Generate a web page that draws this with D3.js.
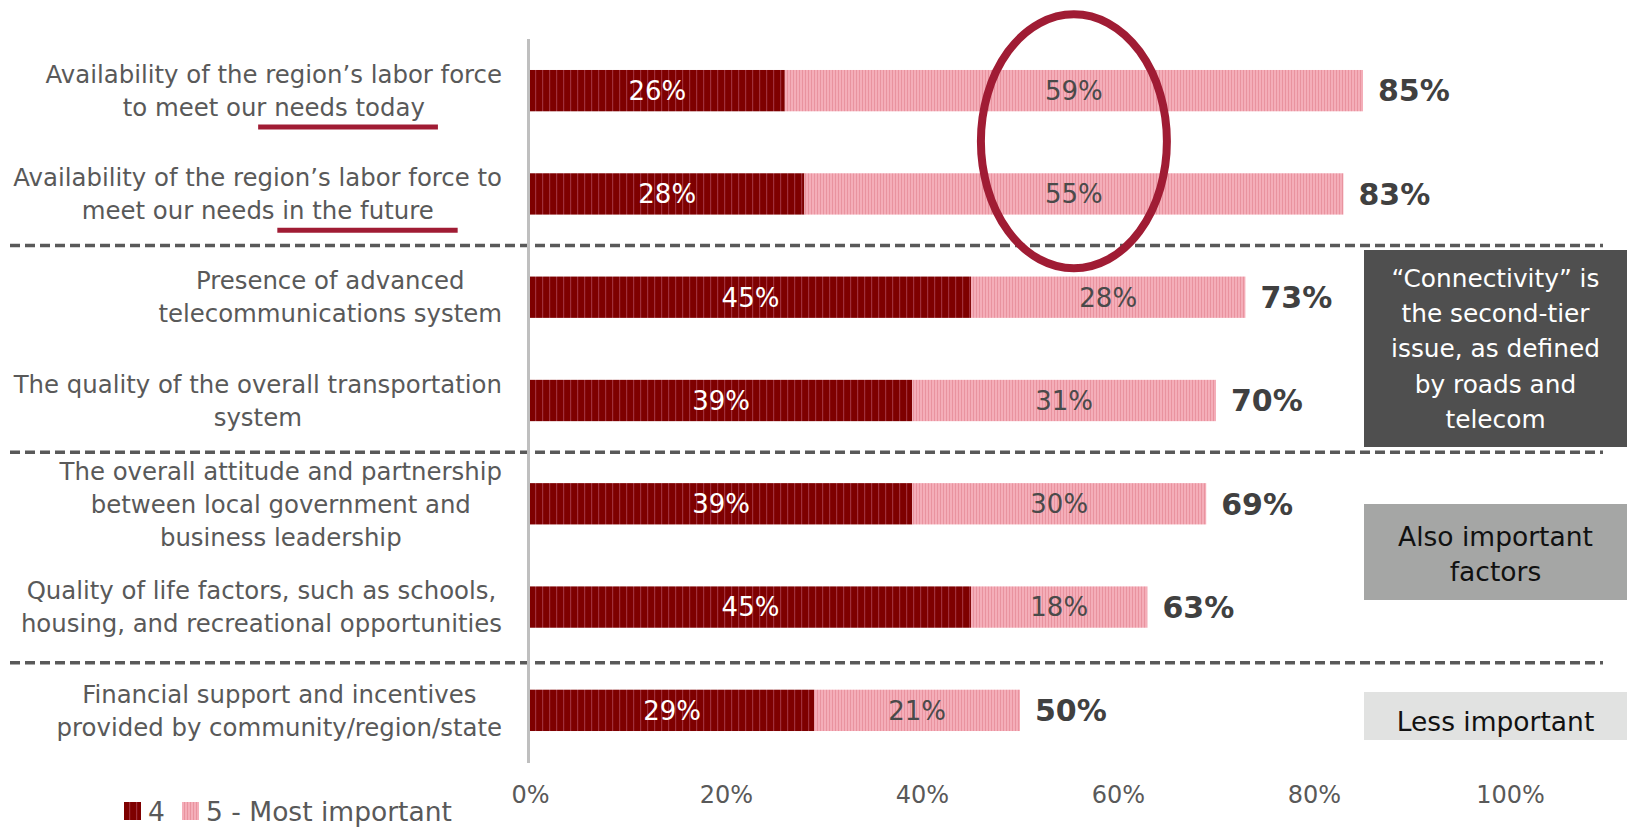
<!DOCTYPE html>
<html>
<head>
<meta charset="utf-8">
<script src="https://cdn.jsdelivr.net/npm/d3@7"></script>
<style>
  body { margin: 0; background: #ffffff; }
  svg { display: block; }
</style>
</head>
<body>
<svg id="chart" width="1627" height="827"></svg>
<script>
// ---- data -------------------------------------------------------------
const categoryLines = [
  ["Availability of the region’s labor force", "to meet our needs today"],
  ["Availability of the region’s labor force to", "meet our needs in the future"],
  ["Presence of advanced", "telecommunications system"],
  ["The quality of the overall transportation", "system"],
  ["The overall attitude and partnership", "between local government and", "business leadership"],
  ["Quality of life factors, such as schools,", "housing, and recreational opportunities"],
  ["Financial support and incentives", "provided by community/region/state"]
];
const categories = categoryLines.map(l => l.join(" "));
const rating4 = [26, 28, 45, 39, 39, 45, 29];   // share rating 4
const rating5 = [59, 55, 28, 31, 30, 18, 21];   // share rating 5 - Most important
const totals  = [85, 83, 73, 70, 69, 63, 50];   // top-two-box total
const seriesNames = ["4", "5 - Most important"];
const xTicks = [0, 20, 40, 60, 80, 100];
const emphasis = ["needs today", "in the future", null, null, null, null, null];
const groupBreaksAfter = [1, 3, 5];            // dashed rules between tiers
const noteTexts = [
  ["“Connectivity” is", "the second-tier", "issue, as defined", "by roads and", "telecom"],
  ["Also important", "factors"],
  ["Less important"]
];

// ---- layout & style ---------------------------------------------------
const W = 1627, H = 827;
const FONT = "'DejaVu Sans', 'Liberation Sans', sans-serif";
const TEXT_GRAY = "#595959";
const ACCENT = "#A01C34";

const svg = d3.select("#chart");

const x = d3.scaleLinear().domain([0, 100]).range([530, 1510]);
const y = d3.scaleBand().domain(categories).range([39, 762])
  .paddingInner(0.6).paddingOuter(0.3);
const yc = i => y(categories[i]) + y.bandwidth() / 2;

// striped fills for the two rating series
const defs = svg.append("defs");
const pat4 = defs.append("pattern").attr("id", "fill4")
  .attr("patternUnits", "userSpaceOnUse").attr("width", 7).attr("height", 10);
pat4.append("rect").attr("width", 7).attr("height", 10).attr("fill", "#7E0000");
pat4.append("rect").attr("x", 3).attr("width", 1.2).attr("height", 10).attr("fill", "#A0303C");

const pat5 = defs.append("pattern").attr("id", "fill5")
  .attr("patternUnits", "userSpaceOnUse").attr("width", 3).attr("height", 10);
pat5.append("rect").attr("width", 3).attr("height", 10).attr("fill", "#F4AEB9");
pat5.append("rect").attr("x", 1).attr("width", 1).attr("height", 10).attr("fill", "#E9939F");

const fills = ["url(#fill4)", "url(#fill5)"];

// ---- group separators -------------------------------------------------
const step = y.step();
const sepOffsets = [0, 0, 4];
const sepY = (d, i) => y(categories[d]) + y.bandwidth() + (step - y.bandwidth()) / 2 + sepOffsets[i];
svg.append("g").selectAll("line")
  .data(groupBreaksAfter)
  .join("line")
  .attr("x1", 10).attr("x2", 1603)
  .attr("y1", sepY).attr("y2", sepY)
  .attr("stroke", "#595959").attr("stroke-width", 3.5)
  .attr("stroke-dasharray", "10,5");

// ---- stacked bars -----------------------------------------------------
const rows = categories.map((c, i) => ({ cat: c, r4: rating4[i], r5: rating5[i] }));
const stacked = d3.stack().keys(["r4", "r5"])(rows);

const layers = svg.append("g").selectAll("g")
  .data(stacked)
  .join("g")
  .attr("fill", (d, i) => fills[i]);

layers.selectAll("rect")
  .data(d => d)
  .join("rect")
  .attr("x", d => x(d[0]))
  .attr("y", d => y(d.data.cat))
  .attr("width", d => x(d[1]) - x(d[0]))
  .attr("height", y.bandwidth());

// segment value labels
layers.each(function (layer, li) {
  d3.select(this).selectAll("text")
    .data(layer)
    .join("text")
    .attr("x", d => x((d[0] + d[1]) / 2))
    .attr("y", d => y(d.data.cat) + y.bandwidth() / 2)
    .attr("dy", "0.36em")
    .attr("text-anchor", "middle")
    .attr("font-family", FONT)
    .attr("font-size", 26)
    .attr("fill", li === 0 ? "#ffffff" : "#4A4A4A")
    .text(d => (d[1] - d[0]) + "%");
});

// totals at the end of each bar
svg.append("g").selectAll("text")
  .data(totals)
  .join("text")
  .attr("x", (d, i) => x(rating4[i] + rating5[i]) + 15)
  .attr("y", (d, i) => yc(i))
  .attr("dy", "0.36em")
  .attr("font-family", FONT)
  .attr("font-weight", "bold")
  .attr("font-size", 30)
  .attr("fill", "#404040")
  .text(d => d + "%");

// ---- vertical axis line -----------------------------------------------
svg.append("line")
  .attr("x1", x(0) - 1.5).attr("x2", x(0) - 1.5)
  .attr("y1", 39).attr("y2", 763)
  .attr("stroke", "#BFBFBF").attr("stroke-width", 3);

// ---- x axis tick labels -----------------------------------------------
const xAxis = svg.append("g")
  .attr("transform", "translate(0,786)")
  .call(d3.axisBottom(x).tickValues(xTicks).tickFormat(d => d + "%").tickSize(0).tickPadding(0));
xAxis.select(".domain").remove();
xAxis.selectAll("text")
  .attr("font-family", FONT)
  .attr("font-size", 24)
  .attr("fill", TEXT_GRAY);

// ---- category labels --------------------------------------------------
const LABEL_RIGHT = 502, LINE_H = 33, LABEL_FS = 24.4;
const underlinePad = [[-16, 13], [-5, 24]];
const labelG = svg.append("g")
  .attr("font-family", FONT)
  .attr("font-size", LABEL_FS)
  .attr("fill", TEXT_GRAY);

categoryLines.forEach((lines, i) => {
  const block = labelG.append("g");
  const texts = lines.map((line, k) => block.append("text")
    .attr("text-anchor", "middle")
    .attr("y", yc(i) + (k - (lines.length - 1) / 2) * LINE_H)
    .attr("dy", "0.36em")
    .text(line));
  const widest = d3.max(texts, t => t.node().getComputedTextLength());
  const cx = LABEL_RIGHT - widest / 2;
  texts.forEach(t => t.attr("x", cx));

  // underline the emphasised phrase on the last line
  const phrase = emphasis[i];
  if (phrase) {
    const t = texts[texts.length - 1];
    const node = t.node();
    const line = lines[lines.length - 1];
    const start = line.indexOf(phrase);
    const x0 = node.getStartPositionOfChar(start).x;
    const x1 = node.getEndPositionOfChar(start + phrase.length - 1).x;
    const pad = underlinePad[i] || [-10, 18];
    const by = yc(i) + ((lines.length - 1) / 2) * LINE_H + 0.36 * LABEL_FS + 11;
    labelG.append("line")
      .attr("x1", x0 + pad[0]).attr("x2", x1 + pad[1])
      .attr("y1", by).attr("y2", by)
      .attr("stroke", ACCENT).attr("stroke-width", 5);
  }
});

// ---- highlight ellipse around the rating-5 labels of the labour rows --
const cxE = x(rating4[0] + rating5[0] / 2);
const cyE = (yc(0) + yc(1)) / 2 - 1;
svg.append("ellipse")
  .attr("cx", cxE).attr("cy", cyE)
  .attr("rx", 93).attr("ry", 127)
  .attr("fill", "none")
  .attr("stroke", ACCENT).attr("stroke-width", 8);

// ---- tier notes on the right ------------------------------------------
const noteBoxes = [
  { y0: 250, y1: 447, fill: "#4F4F4F", color: "#FFFFFF", fs: 24.8, lh: 35.3, dy: 0 },
  { y0: 504, y1: 600, fill: "#A5A6A5", color: "#111111", fs: 26.5, lh: 35.5, dy: 2 },
  { y0: 692, y1: 740, fill: "#E1E2E1", color: "#111111", fs: 26.5, lh: 35.5, dy: 5 }
];
const NOTE_X0 = 1364;
noteTexts.forEach((lines, i) => {
  const b = noteBoxes[i];
  const g = svg.append("g");
  g.append("rect")
    .attr("x", NOTE_X0).attr("y", b.y0)
    .attr("width", W - NOTE_X0).attr("height", b.y1 - b.y0)
    .attr("fill", b.fill);
  const mid = (b.y0 + b.y1) / 2 + b.dy;
  g.selectAll("text")
    .data(lines)
    .join("text")
    .attr("x", (NOTE_X0 + W) / 2)
    .attr("y", (d, k) => mid + (k - (lines.length - 1) / 2) * b.lh)
    .attr("dy", "0.36em")
    .attr("text-anchor", "middle")
    .attr("font-family", FONT)
    .attr("font-size", b.fs)
    .attr("fill", b.color)
    .text(d => d);
});

// ---- legend -----------------------------------------------------------
const legendItems = [
  { x: 124, tx: 148 },
  { x: 182, tx: 206 }
];
const legend = svg.append("g");
seriesNames.forEach((name, i) => {
  legend.append("rect")
    .attr("x", legendItems[i].x).attr("y", 802)
    .attr("width", 17).attr("height", 18)
    .attr("fill", fills[i]);
  legend.append("text")
    .attr("x", legendItems[i].tx).attr("y", 821)
    .attr("font-family", FONT)
    .attr("font-size", 26.5)
    .attr("fill", TEXT_GRAY)
    .text(name);
});
</script>
</body>
</html>
